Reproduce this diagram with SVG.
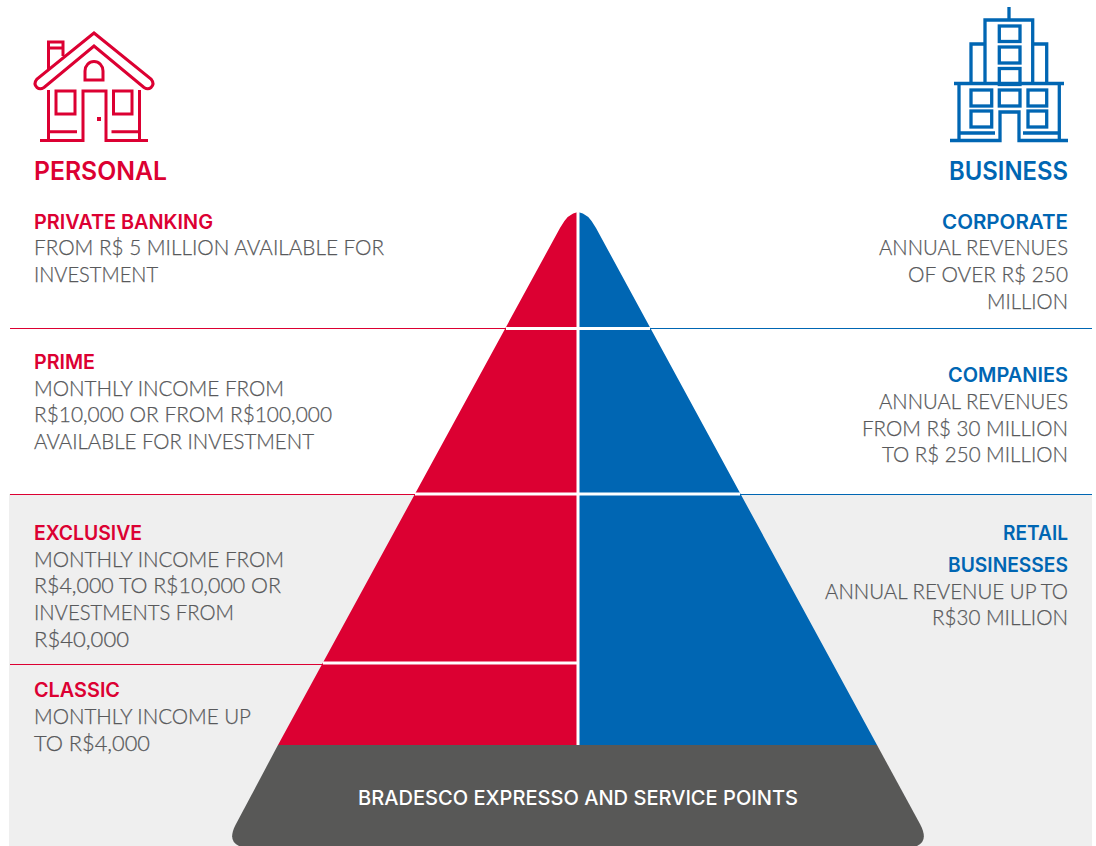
<svg xmlns="http://www.w3.org/2000/svg" width="1096" height="846" viewBox="0 0 1096 846">
<style>
text{font-family:"Lato","Noto Sans",sans-serif;font-size:21px}
.b{font-weight:300;fill:#58595b;stroke:#58595b;stroke-width:.25}
.hr,.hb,.bt{font-family:"Inter","Lato",sans-serif;font-weight:600;font-size:20px}
.hr{fill:#dc0032}.hb{fill:#0066b3}
.bt{fill:#fff;text-anchor:middle;font-weight:500}
.e{text-anchor:end}
.ttl{font-size:25px}
.ir{fill:none;stroke:#dc0032;stroke-width:3}
.ib{fill:none;stroke:#0066b3;stroke-width:3.300}
.lr{stroke:#dc0032;stroke-width:1.2}
.lb{stroke:#0066b3;stroke-width:1.2}
.w{stroke:#fff;stroke-width:3}
</style>
<rect x="9" y="494" width="1083" height="352" fill="#efefef"/>
<g id="connectors">
<path class="lr" d="M10 328.500H506M10 494.500H415M10 664.500H323"/>
<path class="lb" d="M650 328.500H1092M740 494.500H1092"/>
</g>
<g id="icon-personal" class="ir">
<path d="M94 33L151 79Q155 84 151 87.500Q148 90 144 87.500L94 46L44 87.500Q40 90 37 87.500Q33 84 37 79Z"/>
<path d="M48.500 69V42H63V56M48.500 48H63"/>
<path d="M85 80V71A9 9.500 0 0 1 103 71V80Z"/>
<path d="M48.500 90V140M139.500 90V140M40 140.500H83V91H106V140.500H148M48 131.700H77M111.500 131.700H139.500"/>
<rect x="56" y="91" width="19" height="23"/>
<rect x="113.500" y="91" width="18.500" height="23"/>
<rect x="97" y="117" width="4" height="4" fill="#dc0032" stroke="none"/>
</g>
<g id="icon-business" class="ib">
<path d="M1009 7V20M985 83V20H1032.700V83M985 44H971V83M1032.700 44H1046.700V83M954 83.500H1064M959 83.500V140M1059.300 83.500V140"/>
<rect x="999.300" y="26" width="20.700" height="15.500"/>
<rect x="999.300" y="47" width="20.700" height="16"/>
<rect x="999.300" y="68.500" width="20.700" height="16"/>
<rect x="999.300" y="90" width="20.700" height="16"/>
<rect x="971" y="90" width="20.700" height="16"/>
<rect x="971" y="111" width="20.700" height="16"/>
<rect x="1028" y="90" width="18.700" height="16"/>
<rect x="1028" y="111" width="18.700" height="16"/>
<path d="M950 140.500H1000V112H1019V140.500H1068M960 133H995M1023 133H1058"/>
</g>
<text id="title-personal" class="hr ttl" x="34" y="180" textLength="133" lengthAdjust="spacingAndGlyphs">PERSONAL</text>
<text id="title-business" class="hb ttl e" x="1068" y="180" textLength="119" lengthAdjust="spacingAndGlyphs">BUSINESS</text>
<g id="pyramid">
<path id="personal-side" fill="#dc0032" d="M578 212Q568 213 560 228L278 745H578Z"/>
<path id="business-side" fill="#0066b3" d="M578 212Q588 213 596 228L877 745H578Z"/>
<path class="w" d="M578 212V745M506 328.500H650M415 494H740M323 663H578"/>
</g>
<g id="base">
<path fill="#585857" d="M278 745H877L920 824Q929 841 917 846H239Q227 841 236 824Z"/>
<text class="bt" x="578" y="805" textLength="440" lengthAdjust="spacingAndGlyphs">BRADESCO EXPRESSO AND SERVICE POINTS</text>
</g>
<g id="private-banking">
<text class="hr" x="34" y="229" textLength="179" lengthAdjust="spacingAndGlyphs">PRIVATE BANKING</text>
<text class="b" x="34" y="255" textLength="350" lengthAdjust="spacingAndGlyphs">FROM R$ 5 MILLION AVAILABLE FOR</text>
<text class="b" x="34" y="282" textLength="124" lengthAdjust="spacingAndGlyphs">INVESTMENT</text>
</g>
<g id="prime">
<text class="hr" x="34" y="369" textLength="61" lengthAdjust="spacingAndGlyphs">PRIME</text>
<text class="b" x="34" y="396" textLength="250" lengthAdjust="spacingAndGlyphs">MONTHLY INCOME FROM</text>
<text class="b" x="34" y="422" textLength="298" lengthAdjust="spacingAndGlyphs">R$10,000 OR FROM R$100,000</text>
<text class="b" x="34" y="449" textLength="280" lengthAdjust="spacingAndGlyphs">AVAILABLE FOR INVESTMENT</text>
</g>
<g id="exclusive">
<text class="hr" x="34" y="540" textLength="108" lengthAdjust="spacingAndGlyphs">EXCLUSIVE</text>
<text class="b" x="34" y="567" textLength="250" lengthAdjust="spacingAndGlyphs">MONTHLY INCOME FROM</text>
<text class="b" x="34" y="593" textLength="247" lengthAdjust="spacingAndGlyphs">R$4,000 TO R$10,000 OR</text>
<text class="b" x="34" y="620" textLength="200" lengthAdjust="spacingAndGlyphs">INVESTMENTS FROM</text>
<text class="b" x="34" y="647" textLength="95" lengthAdjust="spacingAndGlyphs">R$40,000</text>
</g>
<g id="classic">
<text class="hr" x="34" y="697" textLength="86" lengthAdjust="spacingAndGlyphs">CLASSIC</text>
<text class="b" x="34" y="724" textLength="217" lengthAdjust="spacingAndGlyphs">MONTHLY INCOME UP</text>
<text class="b" x="34" y="751" textLength="116" lengthAdjust="spacingAndGlyphs">TO R$4,000</text>
</g>
<g id="corporate">
<text class="hb e" x="1068" y="229" textLength="126" lengthAdjust="spacingAndGlyphs">CORPORATE</text>
<text class="b e" x="1068" y="255" textLength="189" lengthAdjust="spacingAndGlyphs">ANNUAL REVENUES</text>
<text class="b e" x="1068" y="282" textLength="160" lengthAdjust="spacingAndGlyphs">OF OVER R$ 250</text>
<text class="b e" x="1068" y="309" textLength="81" lengthAdjust="spacingAndGlyphs">MILLION</text>
</g>
<g id="companies">
<text class="hb e" x="1068" y="382" textLength="120" lengthAdjust="spacingAndGlyphs">COMPANIES</text>
<text class="b e" x="1068" y="409" textLength="189" lengthAdjust="spacingAndGlyphs">ANNUAL REVENUES</text>
<text class="b e" x="1068" y="436" textLength="206" lengthAdjust="spacingAndGlyphs">FROM R$ 30 MILLION</text>
<text class="b e" x="1068" y="462" textLength="186" lengthAdjust="spacingAndGlyphs">TO R$ 250 MILLION</text>
</g>
<g id="retail-businesses">
<text class="hb e" x="1068" y="540" textLength="65" lengthAdjust="spacingAndGlyphs">RETAIL</text>
<text class="hb e" x="1068" y="572" textLength="120" lengthAdjust="spacingAndGlyphs">BUSINESSES</text>
<text class="b e" x="1068" y="599" textLength="243" lengthAdjust="spacingAndGlyphs">ANNUAL REVENUE UP TO</text>
<text class="b e" x="1068" y="625" textLength="136" lengthAdjust="spacingAndGlyphs">R$30 MILLION</text>
</g>
</svg>
